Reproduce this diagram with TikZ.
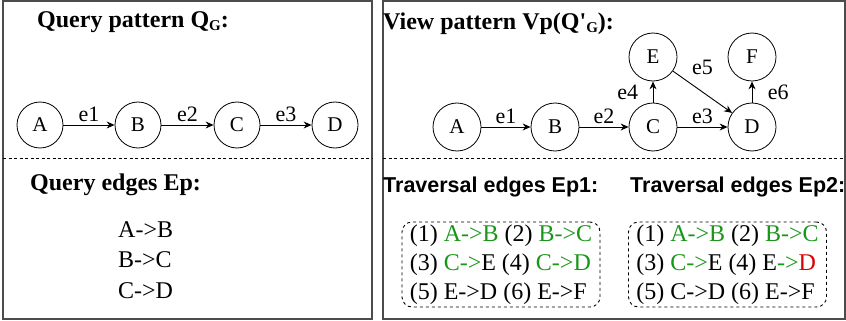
\documentclass[tikz,border=0pt]{standalone}
\usepackage{fontspec}
\setmainfont{Liberation Serif}
\setsansfont{Liberation Sans}
\usetikzlibrary{arrows.meta}
\definecolor{okgreen}{RGB}{25,150,25}
\definecolor{badred}{RGB}{220,0,0}
\newcommand{\subG}{\raisebox{-0.25ex}{\fontsize{15}{15}\selectfont G}}
\begin{document}
\begin{tikzpicture}[x=1pt,y=-1pt,
  vert/.style={circle,draw,line width=0.8pt,minimum size=46pt,inner sep=0pt,font=\fontsize{21}{21}\selectfont},
  bigvert/.style={vert,minimum size=48pt},
  edge/.style={-{Stealth[length=8pt,width=7pt]},line width=0.9pt},
  elab/.style={font=\fontsize{22}{22}\selectfont,inner sep=2.5pt},
  frame/.style={draw=black!70,line width=1.3pt},
  sep/.style={dashed,line width=0.8pt,dash pattern=on 3pt off 2.5pt},
  title/.style={anchor=base west,inner sep=0pt,font=\bfseries\fontsize{24}{24}\selectfont},
  stitle/.style={anchor=base west,inner sep=0pt,font=\sffamily\bfseries\fontsize{21.5}{21.5}\selectfont},
  item/.style={anchor=base west,inner sep=0pt,font=\fontsize{24}{24}\selectfont},
  epbox/.style={draw,dashed,line width=0.9pt,rounded corners=10pt,minimum width=198pt,minimum height=85pt,align=left,inner sep=0pt,font=\fontsize{24}{29}\selectfont}
]
\useasboundingbox (0,0) rectangle (846,321);
% frames
\draw[frame] (3,1) rectangle (372,319);
\draw[frame] (383,1) rectangle (845,319);
\coordinate (l1) at (3,158); \coordinate (l2) at (372,158);
\coordinate (r1) at (383,158); \coordinate (r2) at (845,158);
\draw[sep] (l1) -- (l2);
\draw[sep] (r1) -- (r2);
% titles
\node[title] (tq) at (37,28) {Query pattern Q\subG:};
\node[title] (tv) at (383,30) {View pattern Vp(Q\textquotesingle\subG):};
% query pattern
\node[vert] (qA) at (40,125) {A};
\node[vert] (qB) at (138,125) {B};
\node[vert] (qC) at (237,125) {C};
\node[vert] (qD) at (335,125) {D};
\draw[edge] (qA) -- node[elab,above] {e1} (qB);
\draw[edge] (qB) -- node[elab,above] {e2} (qC);
\draw[edge] (qC) -- node[elab,above] {e3} (qD);
% view pattern
\node[bigvert] (vA) at (457,127) {A};
\node[bigvert] (vB) at (555,127) {B};
\node[bigvert] (vC) at (653,127) {C};
\node[bigvert] (vD) at (752,127) {D};
\node[bigvert] (vE) at (653,57) {E};
\node[bigvert] (vF) at (752,57) {F};
\draw[edge] (vA) -- node[elab,above] {e1} (vB);
\draw[edge] (vB) -- node[elab,above] {e2} (vC);
\draw[edge] (vC) -- node[elab,above] {e3} (vD);
\draw[edge] (vC) -- node[elab,left=12pt] {e4} (vE);
\draw[edge] (vE) -- node[elab,above=14pt] {e5} (vD);
\draw[edge] (vD) -- node[elab,right=13pt] {e6} (vF);
% query edges
\node[title] (tqe) at (30,190) {Query edges Ep:};
\node[item] (q1) at (118,237) {A->B};
\node[item] (q2) at (118,267) {B->C};
\node[item] (q3) at (118,298) {C->D};
% traversal edges
\node[stitle] (te1) at (383,192) {Traversal edges Ep1:};
\node[stitle] (te2) at (630,192) {Traversal edges Ep2:};
\node[epbox] (b1) at (501,264.5) {(1) \textcolor{okgreen}{A->B} (2) \textcolor{okgreen}{B->C}\\
(3) \textcolor{okgreen}{C->}E (4) \textcolor{okgreen}{C->D}\\
(5) E->D (6) E->F};
\node[epbox] (b2) at (727.5,264.5) {(1) \textcolor{okgreen}{A->B} (2) \textcolor{okgreen}{B->C}\\
(3) \textcolor{okgreen}{C->}E (4) E\textcolor{okgreen}{->}\textcolor{badred}{D}\\
(5) C->D (6) E->F};
\end{tikzpicture}
\end{document}
